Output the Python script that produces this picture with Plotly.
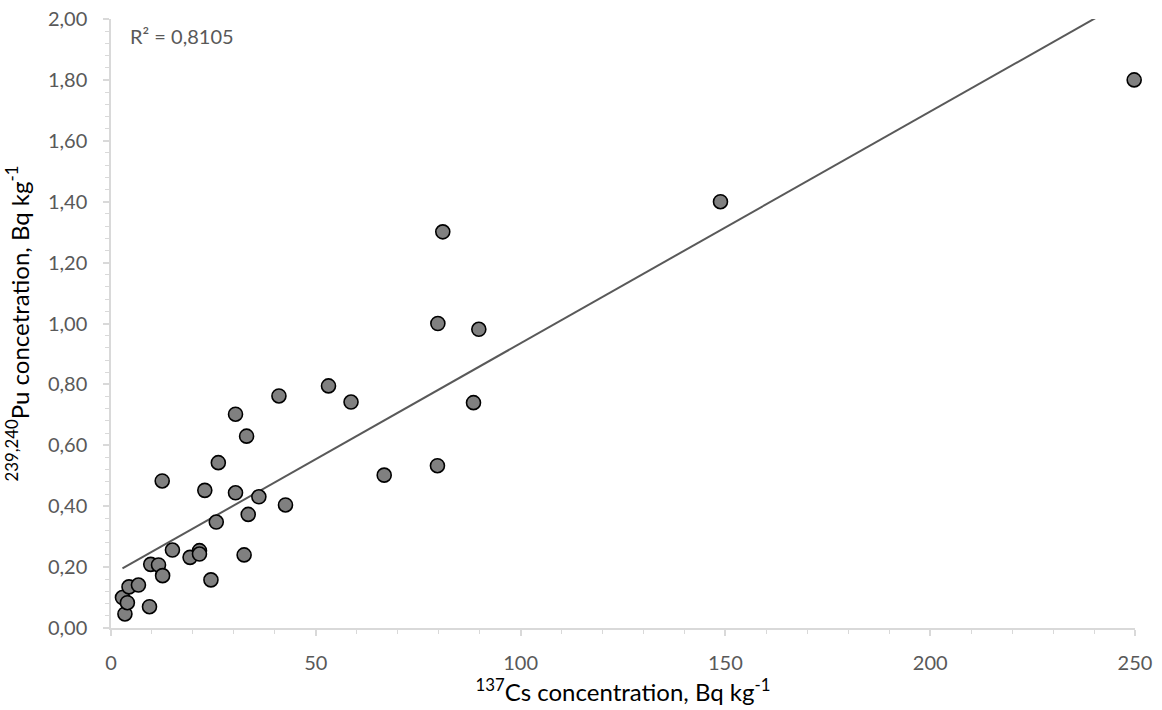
import numpy as np
import plotly.graph_objects as go

# 137Cs and 239,240Pu activity concentrations (Bq/kg) per sample
cs137 = [2.8, 3.4, 4.0, 4.4, 6.7, 9.4, 9.7, 11.6, 12.6, 12.5, 15.0, 19.3,
         21.6, 21.6, 24.4, 22.9, 25.7, 26.2, 30.4, 30.4, 32.5, 33.1, 33.5,
         36.1, 41.0, 42.6, 53.1, 58.6, 66.7, 79.7, 79.8, 81.0, 88.5, 89.8,
         148.8, 249.8]
pu239240 = [0.10, 0.046, 0.083, 0.135, 0.141, 0.070, 0.209, 0.207, 0.172,
            0.483, 0.256, 0.232, 0.254, 0.243, 0.158, 0.452, 0.348, 0.543,
            0.444, 0.702, 0.240, 0.630, 0.373, 0.431, 0.762, 0.404, 0.795,
            0.742, 0.502, 0.533, 1.00, 1.301, 0.740, 0.981, 1.40, 1.80]
r2_label = "R² = 0,8105"

# Least-squares linear trend over the observed Cs range
x = np.array(cs137)
y = np.array(pu239240)
slope, intercept = np.polyfit(x, y, 1)
x_fit = np.array([x.min(), x.max()])
y_fit = slope * x_fit + intercept

fig = go.Figure()
fig.add_trace(go.Scatter(
    x=x_fit, y=y_fit, mode="lines",
    line=dict(color="#595959", width=2),
    hoverinfo="skip", showlegend=False,
))
fig.add_trace(go.Scatter(
    x=cs137, y=pu239240, mode="markers", cliponaxis=False,
    marker=dict(size=14, color="#808080", line=dict(color="#000000", width=1.6)),
    showlegend=False,
))

family = "Lato, Open Sans, sans-serif"
tick_font = dict(family=family, size=20, color="#595959")
title_font = dict(family=family, size=24, color="#000000")

fig.update_layout(
    width=1162, height=710,
    margin=dict(l=111, r=27, t=19, b=82),
    paper_bgcolor="white", plot_bgcolor="white",
    separators=", ",
    annotations=[dict(
        text=r2_label, xref="paper", yref="paper", x=0.0166, y=0.972,
        xanchor="left", yanchor="middle", showarrow=False,
        font=dict(family=family, size=20, color="#595959"),
    )],
)
fig.update_xaxes(
    range=[0, 250], dtick=50, tick0=0, automargin=False,
    showgrid=False, zeroline=False,
    showline=True, linecolor="#d9d9d9", linewidth=1.5,
    ticks="outside", ticklen=6, tickcolor="#d9d9d9", tickwidth=1.5,
    minor=dict(ticks="outside", ticklen=4, dtick=10, tickcolor="#d9d9d9", tickwidth=1.2, showgrid=False),
    tickfont=tick_font, ticklabelstandoff=10,
    title=dict(text="<sup>137</sup>Cs concentration, Bq kg<sup>-1</sup>", font=title_font, standoff=2),
)
fig.update_yaxes(
    range=[0, 2], dtick=0.2, tick0=0, tickformat=".2f", automargin=False,
    showgrid=False, zeroline=False,
    showline=True, linecolor="#d9d9d9", linewidth=1.5,
    ticks="outside", ticklen=6, tickcolor="#d9d9d9", tickwidth=1.5,
    minor=dict(ticks="outside", ticklen=4, dtick=0.04, tickcolor="#d9d9d9", tickwidth=1.2, showgrid=False),
    tickfont=tick_font, ticklabelstandoff=12,
    title=dict(text="<sup>239,240</sup>Pu concetration, Bq kg<sup>-1</sup>", font=title_font, standoff=12),
)

fig.write_html("out.html")
